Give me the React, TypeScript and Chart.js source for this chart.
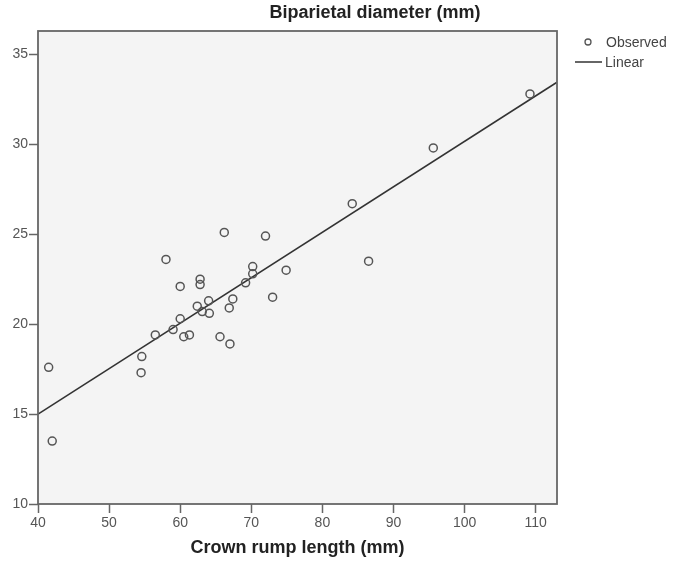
import React, { useEffect, useRef } from "react";
import { Chart, registerables } from "chart.js";

Chart.register(...registerables);

// Crown rump length (mm) of each observation
const crl = [
  41.5, 42.0, 54.6, 54.5, 56.5, 59.0, 60.0, 60.5, 61.3, 62.4, 58.0, 60.0, 62.8, 62.8, 63.1, 64.1,
  64.0, 65.6, 67.0, 66.9, 67.4, 66.2, 69.2, 70.2, 70.2, 72.0, 73.0, 74.9, 84.2, 86.5, 95.6, 109.2,
];
// Biparietal diameter (mm) of each observation
const bpd = [
  17.6, 13.5, 18.2, 17.3, 19.4, 19.7, 20.3, 19.3, 19.4, 21.0, 23.6, 22.1, 22.5, 22.2, 20.7, 20.6,
  21.3, 19.3, 18.9, 20.9, 21.4, 25.1, 22.3, 23.2, 22.8, 24.9, 21.5, 23.0, 26.7, 23.5, 29.8, 32.8,
];
// Linear fit line end points
const fitX = [40, 113];
const fitY = [15.0, 33.45];

const xTicks = [40, 50, 60, 70, 80, 90, 100, 110];
const yTicks = [10, 15, 20, 25, 30, 35];
const xRange = [40, 113];
const yRange = [10, 36.3];

const xTitle = "Crown rump length (mm)";
const yTitle = "Biparietal diameter (mm)";
const legendLabels = ["Observed", "Linear"];

const FONT = "'Liberation Sans', Arial, sans-serif";
const INK = "#555555";
const FRAME = "#666666";

const framePlugin = {
  id: "frame",
  beforeDatasetsDraw(chart: any) {
    const { ctx, chartArea: a } = chart;
    ctx.save();
    ctx.fillStyle = "#f4f4f4";
    ctx.fillRect(a.left, a.top, a.right - a.left, a.bottom - a.top);
    ctx.restore();
  },
  afterDraw(chart: any) {
    const { ctx, chartArea: a } = chart;
    ctx.save();
    ctx.strokeStyle = FRAME;
    ctx.lineWidth = 1.8;
    ctx.strokeRect(a.left, a.top, a.right - a.left, a.bottom - a.top);

    // top title (y variable)
    ctx.fillStyle = "#222222";
    ctx.font = `bold 18px ${FONT}`;
    ctx.textAlign = "center";
    ctx.textBaseline = "middle";
    ctx.fillText(yTitle, a.right - 182, 13);

    // legend
    const lx = a.right + 18;
    ctx.font = `14px ${FONT}`;
    ctx.textAlign = "left";
    ctx.fillStyle = "#444444";
    ctx.strokeStyle = INK;
    ctx.lineWidth = 1.3;
    ctx.beginPath();
    ctx.arc(lx + 13, 42, 3, 0, Math.PI * 2);
    ctx.stroke();
    ctx.fillText(legendLabels[0], lx + 31, 43);
    ctx.strokeStyle = "#333333";
    ctx.lineWidth = 1.5;
    ctx.beginPath();
    ctx.moveTo(lx, 62);
    ctx.lineTo(lx + 27, 62);
    ctx.stroke();
    ctx.fillText(legendLabels[1], lx + 30, 63);
    ctx.restore();
  },
};

export default function App() {
  const ref = useRef<HTMLCanvasElement | null>(null);

  useEffect(() => {
    document.body.style.margin = "0";
    if (!ref.current) return;
    const chart = new Chart(ref.current, {
      type: "scatter",
      data: {
        datasets: [
          {
            label: legendLabels[0],
            data: crl.map((x, i) => ({ x, y: bpd[i] })),
            pointStyle: "circle",
            pointRadius: 4,
            pointBorderWidth: 1.5,
            pointBorderColor: INK,
            pointBackgroundColor: "rgba(0,0,0,0)",
            showLine: false,
          },
          {
            label: legendLabels[1],
            data: fitX.map((x, i) => ({ x, y: fitY[i] })),
            showLine: true,
            borderColor: "#333333",
            borderWidth: 1.6,
            pointRadius: 0,
          },
        ],
      },
      options: {
        animation: false,
        responsive: false,
        events: [],
        layout: { padding: { top: 31, right: 116, left: 0, bottom: 0 } },
        plugins: {
          legend: { display: false },
          tooltip: { enabled: false },
          title: { display: false },
        },
        scales: {
          x: {
            type: "linear",
            min: xRange[0],
            max: xRange[1],
            afterBuildTicks: (s: any) => {
              s.ticks = xTicks.map((v) => ({ value: v }));
            },
            afterFit: (s: any) => {
              s.height = 68;
            },
            border: { display: false },
            grid: {
              drawOnChartArea: false,
              drawTicks: true,
              tickLength: 9,
              tickWidth: 1.5,
              tickColor: FRAME,
            },
            ticks: {
              color: INK,
              font: { family: FONT, size: 14 },
              padding: 2,
              maxRotation: 0,
              autoSkip: false,
            },
            title: {
              display: true,
              text: xTitle,
              color: "#222222",
              font: { family: FONT, size: 18, weight: "bold" },
              padding: { top: 0, bottom: 13 },
            },
          },
          y: {
            type: "linear",
            min: yRange[0],
            max: yRange[1],
            afterBuildTicks: (s: any) => {
              s.ticks = yTicks.map((v) => ({ value: v }));
            },
            afterFit: (s: any) => {
              s.width = 38;
            },
            border: { display: false },
            grid: {
              drawOnChartArea: false,
              drawTicks: true,
              tickLength: 9,
              tickWidth: 1.5,
              tickColor: FRAME,
            },
            ticks: {
              color: INK,
              font: { family: FONT, size: 14 },
              padding: 1,
              autoSkip: false,
            },
          },
        },
      },
      plugins: [framePlugin],
    } as any);
    return () => chart.destroy();
  }, []);

  return (
    <div style={{ width: 673, height: 572, background: "#ffffff" }}>
      <canvas ref={ref} width={673} height={572} style={{ display: "block" }} />
    </div>
  );
}
